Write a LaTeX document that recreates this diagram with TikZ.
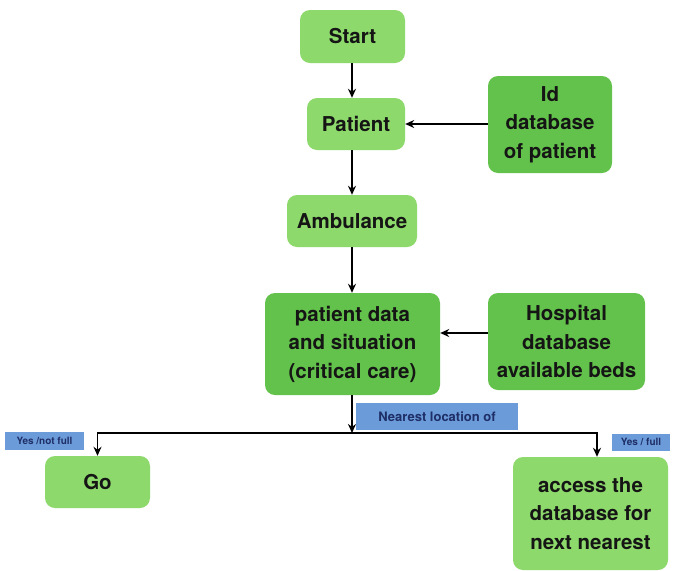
\documentclass[tikz,border=0pt]{standalone}
\usepackage{fontspec}
\setmainfont{TeX Gyre Heros}
\usetikzlibrary{arrows.meta,calc}
\definecolor{lightgr}{HTML}{8DD96B}
\definecolor{darkgr}{HTML}{63C24B}
\definecolor{lblblue}{HTML}{6C9BD9}
\definecolor{lbltext}{HTML}{1E2E66}
\definecolor{txt}{HTML}{151515}
\tikzset{
  box/.style={rounded corners=10pt, inner sep=0pt, align=center, text=txt,
    font=\fontsize{20.5}{28.5}\selectfont\bfseries},
  lbox/.style={box, fill=lightgr},
  dbox/.style={box, fill=darkgr},
  tag/.style={fill=lblblue, text=lbltext, inner sep=0pt, align=center},
  arr/.style={line width=1.6pt, draw=black, -{Stealth[length=9pt,width=8pt]}},
  ln/.style={line width=1.6pt, draw=black}
}
\begin{document}
\begin{tikzpicture}[x=1pt,y=-1pt]
\useasboundingbox[fill=white] (0,0) rectangle (673,571);
\node[lbox, minimum width=105pt, minimum height=53pt] (start) at (352.5,36.5) {Start};
\node[lbox, minimum width=98pt, minimum height=52pt] (patient) at (356,124) {Patient};
\node[lbox, minimum width=130pt, minimum height=52pt] (amb) at (352,221) {Ambulance};
\node[dbox, minimum width=124pt, minimum height=97pt] (iddb) at (550,124.5) {Id\\database\\of patient};
\node[dbox, minimum width=175pt, minimum height=102pt] (pd) at (352.5,344) {patient data\\and situation\\(critical care)};
\node[dbox, minimum width=157pt, minimum height=97pt] (hosp) at (566.5,341.5) {Hospital\\database\\available beds};
\node[tag, minimum width=162pt, minimum height=27pt, font=\fontsize{13}{15}\selectfont\bfseries] (near) at (437,416.5) {Nearest location of};
\node[lbox, minimum width=105pt, minimum height=52pt] (go) at (97.5,482) {Go};
\node[lbox, minimum width=155pt, minimum height=113pt] (access) at (590.5,513.5) {access the\\database for\\next nearest};
\node[tag, minimum width=79pt, minimum height=18pt, font=\fontsize{10}{12}\selectfont\bfseries] (ynf) at (44.5,441) {Yes /not full};
\node[tag, minimum width=58pt, minimum height=17pt, font=\fontsize{10}{12}\selectfont\bfseries] (yf) at (641,442) {Yes / full};
% connectors
\draw[arr] (start.south -| 352,0) -- (352,0 |- patient.north);
\draw[arr] (patient.south -| 352,0) -- (352,0 |- amb.north);
\draw[arr] (amb.south -| 352,0) -- (352,0 |- pd.north);
\draw[arr] (iddb.west |- patient.east) -- (patient.east);
\coordinate (hw) at ($(hosp.west)+(0,-8.5)$);
\draw[arr] (hw) -- (hw -| pd.east);
\coordinate (split) at (352,433);
\draw[arr] (pd.south -| split) -- (split);
\coordinate (accin) at ($(access.north)+(6.5,0)$);
\draw[arr] (split) -| (go.north);
\draw[arr] (split) -| (accin);
\end{tikzpicture}
\end{document}
